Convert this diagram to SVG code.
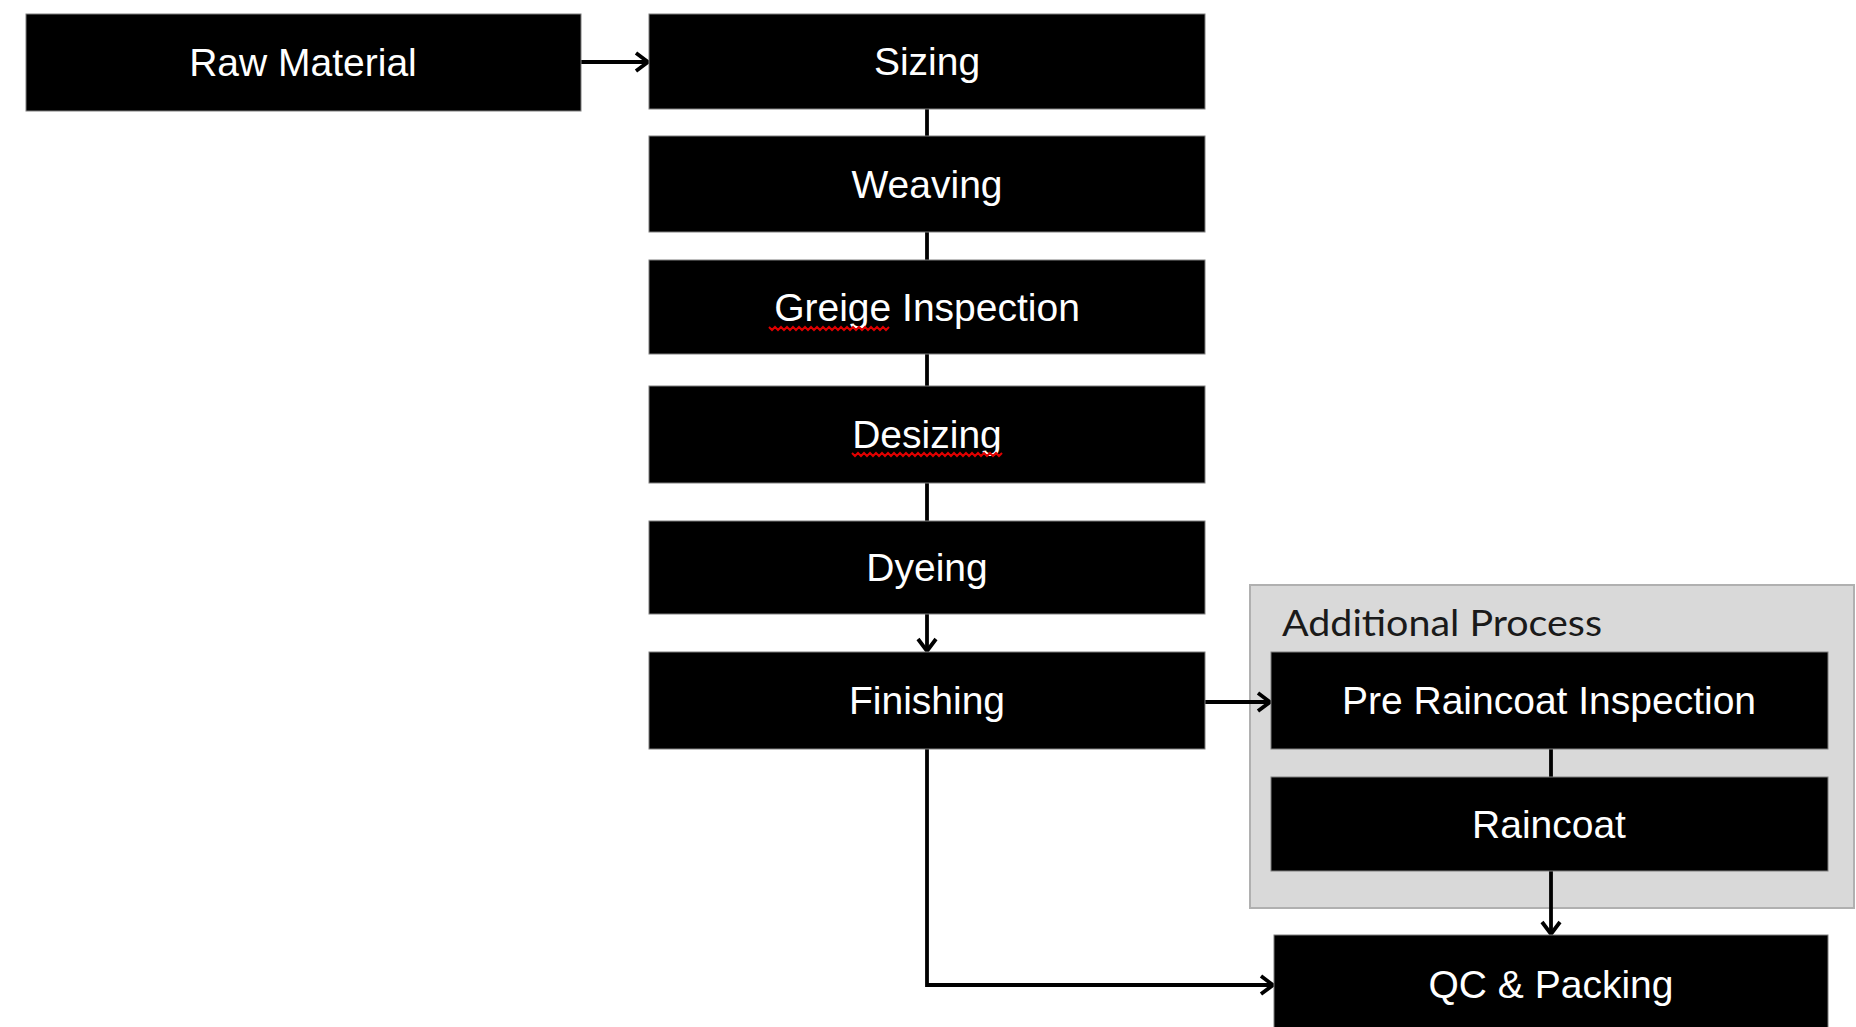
<svg xmlns="http://www.w3.org/2000/svg" width="1856" height="1027" viewBox="0 0 1856 1027">
<defs>
<marker id="arr" markerUnits="userSpaceOnUse" markerWidth="18" markerHeight="22" refX="14" refY="11" orient="auto">
<path d="M2,2 L14,11 L2,20" fill="none" stroke="#000" stroke-width="3.8"/>
</marker>
<style>
.box{fill:#000;stroke:#7f7f7f;stroke-width:1}
.lbl{fill:#fff;font-family:"Liberation Sans",Arial,sans-serif;font-size:39px;text-anchor:middle}
.con{fill:none;stroke:#000;stroke-width:3.8}
.squig{fill:none;stroke:#e00000;stroke-width:2}
</style>
</defs>
<rect width="1856" height="1027" fill="#fff"/>
<g id="additional-process">
<rect x="1250" y="585" width="604" height="323" fill="#d9d9d9" stroke="#b0b0b0" stroke-width="2"/>
<text x="1282" y="636" font-family="Lato,'Liberation Sans',sans-serif" font-size="37" fill="#1a1a1a" textLength="320" lengthAdjust="spacingAndGlyphs">Additional Process</text>
</g>
<g id="connectors">
<line class="con" x1="581" y1="62" x2="648" y2="62" marker-end="url(#arr)"/>
<line class="con" x1="927" y1="109" x2="927" y2="136"/>
<line class="con" x1="927" y1="232" x2="927" y2="260"/>
<line class="con" x1="927" y1="354" x2="927" y2="386"/>
<line class="con" x1="927" y1="483" x2="927" y2="521"/>
<line class="con" x1="927" y1="614" x2="927" y2="651" marker-end="url(#arr)"/>
<line class="con" x1="1205" y1="702" x2="1270" y2="702" marker-end="url(#arr)"/>
<line class="con" x1="1551" y1="749" x2="1551" y2="777"/>
<line class="con" x1="1551" y1="871" x2="1551" y2="934" marker-end="url(#arr)"/>
<polyline class="con" points="927,749 927,985 1273,985" marker-end="url(#arr)"/>
</g>
<g id="raw-material"><rect class="box" x="26" y="14" width="555" height="97"/><text class="lbl" x="303" y="76">Raw Material</text></g>
<g id="sizing"><rect class="box" x="649" y="14" width="556" height="95"/><text class="lbl" x="927" y="75">Sizing</text></g>
<g id="weaving"><rect class="box" x="649" y="136" width="556" height="96"/><text class="lbl" x="927" y="198">Weaving</text></g>
<g id="greige-inspection"><rect class="box" x="649" y="260" width="556" height="94"/><text class="lbl" x="927" y="321">Greige Inspection</text>
<polyline class="squig" points="769,327 772,330 775,327 778,330 781,327 784,330 787,327 790,330 793,327 796,330 799,327 802,330 805,327 808,330 811,327 814,330 817,327 820,330 823,327 826,330 829,327 832,330 835,327 838,330 841,327 844,330 847,327 850,330 853,327 856,330 859,327 862,330 865,327 868,330 871,327 874,330 877,327 880,330 883,327 886,330 889,327"/></g>
<g id="desizing"><rect class="box" x="649" y="386" width="556" height="97"/><text class="lbl" x="927" y="448">Desizing</text>
<polyline class="squig" points="852,453 855,456 858,453 861,456 864,453 867,456 870,453 873,456 876,453 879,456 882,453 885,456 888,453 891,456 894,453 897,456 900,453 903,456 906,453 909,456 912,453 915,456 918,453 921,456 924,453 927,456 930,453 933,456 936,453 939,456 942,453 945,456 948,453 951,456 954,453 957,456 960,453 963,456 966,453 969,456 972,453 975,456 978,453 981,456 984,453 987,456 990,453 993,456 996,453 999,456 1002,453"/></g>
<g id="dyeing"><rect class="box" x="649" y="521" width="556" height="93"/><text class="lbl" x="927" y="581">Dyeing</text></g>
<g id="finishing"><rect class="box" x="649" y="652" width="556" height="97"/><text class="lbl" x="927" y="714">Finishing</text></g>
<g id="pre-raincoat-inspection"><rect class="box" x="1271" y="652" width="557" height="97"/><text class="lbl" x="1549" y="714">Pre Raincoat Inspection</text></g>
<g id="raincoat"><rect class="box" x="1271" y="777" width="557" height="94"/><text class="lbl" x="1549" y="838">Raincoat</text></g>
<g id="qc-packing"><rect class="box" x="1274" y="935" width="554" height="100"/><text class="lbl" x="1551" y="998">QC &amp; Packing</text></g>
</svg>
